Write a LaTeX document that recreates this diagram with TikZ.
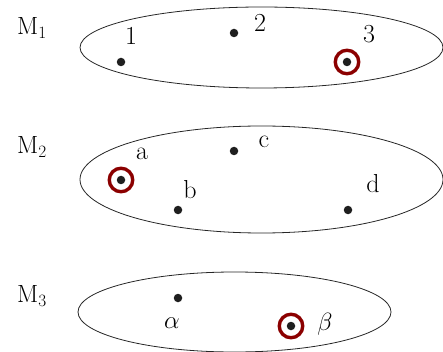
\documentclass[tikz,border=0pt]{standalone}
\definecolor{selred}{RGB}{139,0,0}
\begin{document}
\begin{tikzpicture}[x=1pt,y=-1pt,
  dot/.style={circle,fill=black!88,inner sep=0pt,minimum size=8.5pt},
  sel/.style={circle,draw=selred,line width=3.4pt,minimum size=23.5pt,inner sep=0pt},
  lab/.style={inner sep=0pt,font=\fontsize{26}{30}\selectfont},
  setline/.style={draw=black!85,line width=0.8pt}]
\useasboundingbox (0,0) rectangle (443,352);
% sets
\draw[setline] (261.5,47.5) ellipse [x radius=181.5pt, y radius=40.5pt];
\draw[setline] (261.5,179.5) ellipse [x radius=181.5pt, y radius=53.5pt];
\draw[setline] (234.5,312) ellipse [x radius=156.5pt, y radius=40pt];
% set names
\node[lab] (m1) at (32,28) {$\mathrm{M}_1$};
\node[lab] (m2) at (32,147) {$\mathrm{M}_2$};
\node[lab] (m3) at (32,296) {$\mathrm{M}_3$};
% M1
\node[dot] (p1) at (121,62) {};
\node[dot] (p2) at (234,33) {};
\node[dot] (p3) at (347,62) {};
\node[sel] (s3) at (p3) {};
\node[lab] (l1) at (131,36) {1};
\node[lab] (l2) at (260,23) {2};
\node[lab] (l3) at (369,34) {3};
% M2
\node[dot] (pa) at (121,180) {};
\node[sel] (sa) at (pa) {};
\node[dot] (pb) at (178,210) {};
\node[dot] (pc) at (234,151) {};
\node[dot] (pd) at (348,210) {};
\node[lab] (la) at (142,154) {a};
\node[lab] (lb) at (190,190) {b};
\node[lab] (lc) at (264,142) {c};
\node[lab] (ld) at (373,184) {d};
% M3
\node[dot] (pal) at (178,298) {};
\node[dot] (pbe) at (291,326) {};
\node[sel] (sbe) at (pbe) {};
\node[lab] (lal) at (172,323) {$\alpha$};
\node[lab] (lbe) at (325,324) {$\beta$};
\end{tikzpicture}
\end{document}
